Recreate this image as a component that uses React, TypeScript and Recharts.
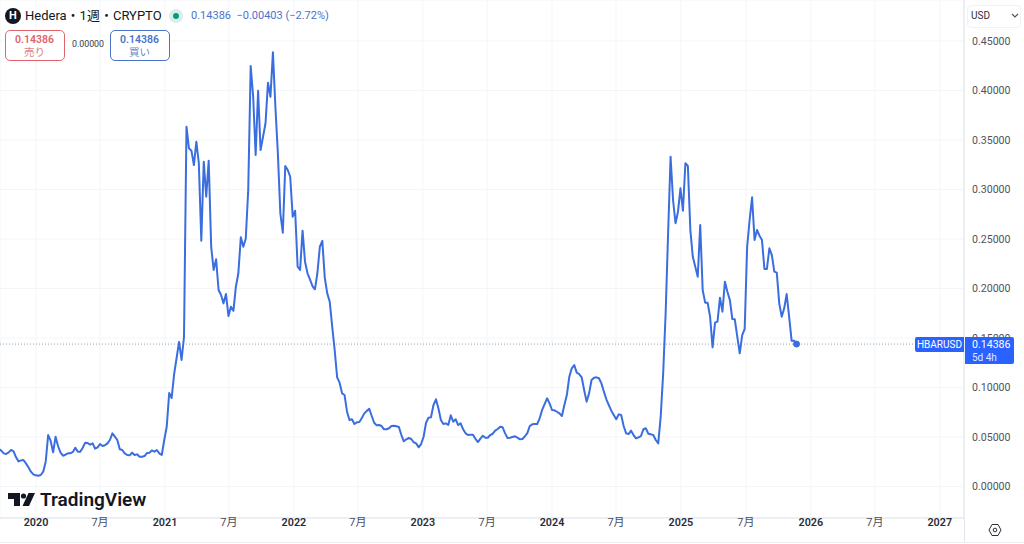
import {
  CartesianGrid,
  Line,
  LineChart,
  ReferenceDot,
  ReferenceLine,
  XAxis,
  YAxis,
} from "recharts";

// weekly closes
const closes2019 = [
  0.038, 0.0362, 0.0335, 0.0328, 0.0345, 0.0369, 0.0355, 0.0295, 0.0254, 0.0264, 0.0268, 0.0234,
  0.0194, 0.015, 0.0123, 0.0113,
];
const closes2020 = [
  0.0109, 0.0116, 0.015, 0.0251, 0.052, 0.0463, 0.0345, 0.0503, 0.0409, 0.0342, 0.0311, 0.0321,
  0.0335, 0.0335, 0.0349, 0.0392, 0.0352, 0.0352, 0.0392, 0.0443, 0.0439, 0.0423, 0.0436, 0.0382,
  0.0396, 0.0429, 0.0409, 0.0416, 0.0436, 0.047, 0.0537, 0.0503, 0.047, 0.0376, 0.0369, 0.0335,
  0.0318, 0.0315, 0.0342, 0.0318, 0.0325, 0.0301, 0.0301, 0.0308, 0.0338, 0.0342, 0.0365, 0.0352,
  0.0369, 0.0335, 0.0318, 0.047,
];
const closes2021 = [
  0.0604, 0.0944, 0.0894, 0.1136, 0.1298, 0.146, 0.1278, 0.151, 0.3634, 0.3416, 0.3392, 0.3247,
  0.3483, 0.3265, 0.2483, 0.3281, 0.2927, 0.3291, 0.2422, 0.2187, 0.2295, 0.1985, 0.1934, 0.185,
  0.1944, 0.1722, 0.1816, 0.1775, 0.2018, 0.2154, 0.2517, 0.2422, 0.2503, 0.2995, 0.4247, 0.3937,
  0.3348, 0.3998, 0.3399, 0.3533, 0.3669, 0.4079, 0.3937, 0.4386, 0.3836, 0.3366, 0.276, 0.2564,
  0.3237, 0.3197, 0.3129, 0.2725,
];
const closes2022 = [
  0.2786, 0.222, 0.2187, 0.2584, 0.2271, 0.2154, 0.2093, 0.2025, 0.1992, 0.2154, 0.2422, 0.248,
  0.2107, 0.1951, 0.1867, 0.1614, 0.1379, 0.1103, 0.1049, 0.0941, 0.0924, 0.0756, 0.0672, 0.0679,
  0.0631, 0.0648, 0.0652, 0.0692, 0.0739, 0.0763, 0.0786, 0.0712, 0.0644, 0.0618, 0.0621, 0.0611,
  0.0578, 0.0578, 0.0588, 0.0611, 0.0614, 0.0608, 0.0601, 0.052, 0.0457, 0.0477, 0.049, 0.048,
  0.0447, 0.0436, 0.0396, 0.0429, 0.0503,
];
const closes2023 = [
  0.0644, 0.0695, 0.0699, 0.0823, 0.0881, 0.079, 0.0672, 0.0631, 0.0638, 0.0621, 0.0719, 0.0655,
  0.0679, 0.0621, 0.0638, 0.0578, 0.0537, 0.052, 0.0523, 0.0523, 0.048, 0.0449, 0.0483, 0.0513,
  0.0493, 0.0493, 0.052, 0.0533, 0.0564, 0.0581, 0.0604, 0.0598, 0.0537, 0.049, 0.0493, 0.05,
  0.0507, 0.0493, 0.0477, 0.048, 0.0507, 0.054, 0.0611, 0.0628, 0.0631, 0.0631, 0.0689, 0.0773,
  0.0833, 0.0891, 0.084, 0.0773,
];
const closes2024 = [
  0.077, 0.0755, 0.0739, 0.0712, 0.0823, 0.0924, 0.1109, 0.1194, 0.1227, 0.115, 0.1136, 0.1103,
  0.0975, 0.0857, 0.0941, 0.1076, 0.1099, 0.1103, 0.1093, 0.1042, 0.0958, 0.0881, 0.0823, 0.0766,
  0.0722, 0.0679, 0.0729, 0.0722, 0.0611, 0.0537, 0.053, 0.0564, 0.052, 0.0487, 0.0497, 0.051,
  0.0578, 0.0588, 0.0533, 0.0527, 0.052, 0.047, 0.0436, 0.0705, 0.1143, 0.175, 0.2558, 0.3331,
  0.2894, 0.2659, 0.2776, 0.3012,
];
const closes2025 = [
  0.2786, 0.3265, 0.3237, 0.2591, 0.2321, 0.222, 0.2119, 0.2641, 0.1985, 0.1857, 0.1857, 0.1715,
  0.1406, 0.1655, 0.1665, 0.1907, 0.1766, 0.2069, 0.1968, 0.1884, 0.1692, 0.1689, 0.1513, 0.1345,
  0.153, 0.1591, 0.2422, 0.2692, 0.2921, 0.249, 0.2591, 0.2533, 0.249, 0.2197, 0.2197, 0.2406,
  0.2338, 0.217, 0.216, 0.185, 0.1715, 0.18, 0.1944, 0.1715, 0.1473, 0.1473, 0.14386,
];

const closes = [
  ...closes2019,
  ...closes2020,
  ...closes2021,
  ...closes2022,
  ...closes2023,
  ...closes2024,
  ...closes2025,
];
const data = closes.map((close, week) => ({ week, close }));

const lastClose = 0.14386;
const lastWeek = closes.length - 1;

const priceTicks = [0, 0.05, 0.1, 0.15, 0.2, 0.25, 0.3, 0.35, 0.4, 0.45];
const timeTicks = [
  15.07, 40.98, 67.3, 93.2, 119.5, 145.4, 171.7, 197.7, 224, 249.9, 276.2, 302.5, 328.8, 354.7, 381,
];
const timeLabels = [
  "2020", "7月", "2021", "7月", "2022", "7月", "2023", "7月", "2024", "7月", "2025", "7月", "2026",
  "7月", "2027",
];

const font = 'Roboto, "Noto Sans CJK JP", sans-serif';
const lineBlue = "#3a6ee0";
const tagBlue = "#2962ff";

function TimeTick({ x, y, index }: any) {
  const label = timeLabels[index];
  const isYear = label.length === 4;
  return (
    <text
      x={x}
      y={y}
      textAnchor="middle"
      fontFamily={font}
      fontSize={isYear ? 10.8 : 11}
      fontWeight={isYear ? 600 : 400}
      fill={isYear ? "#2a2e39" : "#4a4e59"}
    >
      {label}
    </text>
  );
}

function text(left: number, top: number, size: number, color: string, extra = {}) {
  return {
    position: "absolute" as const,
    left,
    top,
    fontSize: size,
    color,
    lineHeight: "14px",
    whiteSpace: "nowrap" as const,
    ...extra,
  };
}

function QuoteBox({ left, color, label }: { left: number; color: string; label: string }) {
  return (
    <div
      style={{
        position: "absolute",
        left,
        top: 29.5,
        width: 58,
        height: 29,
        border: `1px solid ${color}`,
        borderRadius: 5,
        textAlign: "center",
        color,
        fontSize: 10.5,
        lineHeight: "13px",
        background: "#fff",
      }}
    >
      <div style={{ fontWeight: 600, marginTop: 2 }}>0.14386</div>
      <div style={{ opacity: 0.85 }}>{label}</div>
    </div>
  );
}

export default function App() {
  return (
    <div
      style={{
        position: "absolute",
        left: 0,
        top: 0,
        width: 1024,
        height: 544,
        overflow: "hidden",
        background: "#fff",
        fontFamily: font,
      }}
    >
      <LineChart
        width={1024}
        height={544}
        data={data}
        margin={{ left: 0, right: 0, top: 0, bottom: 0 }}
      >
        <CartesianGrid stroke="#f4f5f7" strokeWidth={1} />
        <XAxis
          type="number"
          dataKey="week"
          domain={[0.5, 390.8]}
          allowDataOverflow
          ticks={timeTicks}
          interval={0}
          height={26}
          tick={<TimeTick />}
          tickLine={false}
          tickSize={0}
          tickMargin={8}
          stroke="#e0e3eb"
        />
        <YAxis
          orientation="right"
          domain={[-0.0318, 0.4914]}
          allowDataOverflow
          ticks={priceTicks}
          interval={0}
          width={60}
          tickFormatter={(v: number) => v.toFixed(5)}
          tick={{ fontSize: 10.6, fill: "#50535e", fontFamily: font }}
          tickLine={false}
          tickSize={0}
          tickMargin={8}
          stroke="#e0e3eb"
        />
        <ReferenceLine y={lastClose} stroke="#8fa5b5" strokeDasharray="1 2" strokeWidth={1} />
        <Line
          type="linear"
          dataKey="close"
          stroke={lineBlue}
          strokeWidth={2}
          strokeLinejoin="round"
          dot={false}
          isAnimationActive={false}
        />
        <ReferenceDot x={lastWeek} y={lastClose} r={3} fill={lineBlue} stroke={lineBlue} />
      </LineChart>

      {/* header */}
      <div
        style={{
          position: "absolute",
          left: 5,
          top: 8,
          width: 16,
          height: 16,
          borderRadius: 8,
          background: "#131722",
          color: "#fff",
          fontSize: 11,
          fontWeight: 700,
          lineHeight: "16px",
          textAlign: "center",
        }}
      >
        H
      </div>
      <div style={text(25, 9, 13, "#131722")}>Hedera・1週・CRYPTO</div>
      <div
        style={{
          position: "absolute",
          left: 169,
          top: 9,
          width: 14,
          height: 14,
          borderRadius: 7,
          background: "#d5efe9",
        }}
      />
      <div
        style={{
          position: "absolute",
          left: 173,
          top: 13,
          width: 6,
          height: 6,
          borderRadius: 3,
          background: "#089981",
        }}
      />
      <div style={text(191, 9, 11, "#4a74c9")}>0.14386&nbsp; −0.00403 (−2.72%)</div>
      <QuoteBox left={4.5} color="#e0646e" label="売り" />
      <div style={text(72, 37, 8.8, "#3a3d46")}>0.00000</div>
      <QuoteBox left={109.5} color="#4a74c9" label="買い" />

      {/* logo */}
      <svg style={{ position: "absolute", left: 8, top: 492 }} width={28} height={16}>
        <path d="M0 1h12v13H6V7H0z M20.5 1H27l-6 13h-6.5z" fill="#131722" />
        <circle cx={15.5} cy={4} r={2.6} fill="#131722" />
      </svg>
      <div style={text(40, 490, 19, "#131722", { fontWeight: 600, lineHeight: "20px" })}>
        TradingView
      </div>

      {/* price scale furniture */}
      <div
        style={{
          position: "absolute",
          left: 967,
          top: 5,
          width: 52,
          height: 21,
          border: "1px solid #f1f2f5",
          borderRadius: 4,
          background: "#fff",
        }}
      />
      <div style={text(971, 9, 10, "#2a2e39")}>USD</div>
      <svg style={{ position: "absolute", left: 1011, top: 13 }} width={8} height={6}>
        <path d="M1 1l3 3 3-3" fill="none" stroke="#50535e" strokeWidth={1.2} />
      </svg>

      {/* last price tags */}
      <div
        style={{
          position: "absolute",
          left: 915,
          top: 337,
          width: 49,
          height: 15,
          background: tagBlue,
          color: "#fff",
          fontSize: 10,
          lineHeight: "15px",
          textAlign: "center",
          borderRadius: "2px 0 0 2px",
        }}
      >
        HBARUSD
      </div>
      <div
        style={{
          position: "absolute",
          left: 965,
          top: 337,
          width: 49,
          height: 27,
          background: tagBlue,
          color: "#fff",
          fontSize: 10.6,
          lineHeight: "13px",
          paddingLeft: 7,
          boxSizing: "border-box",
          borderRadius: "0 2px 2px 0",
        }}
      >
        <div style={{ marginTop: 1 }}>0.14386</div>
        <div style={{ fontSize: 10, opacity: 0.85 }}>5d 4h</div>
      </div>

      {/* bottom edge + settings */}
      <div
        style={{ position: "absolute", left: 0, top: 542, width: 1024, height: 1, background: "#eceef2" }}
      />
      <div
        style={{ position: "absolute", left: 964, top: 518, width: 1, height: 24, background: "#e0e3eb" }}
      />
      <svg style={{ position: "absolute", left: 988, top: 523 }} width={14} height={14}>
        <path d="M4 1.5h6L13 7l-3 5.5H4L1 7z" fill="none" stroke="#2a2e39" strokeWidth={1} />
        <circle cx={7} cy={7} r={1.8} fill="none" stroke="#2a2e39" strokeWidth={1} />
      </svg>
    </div>
  );
}
